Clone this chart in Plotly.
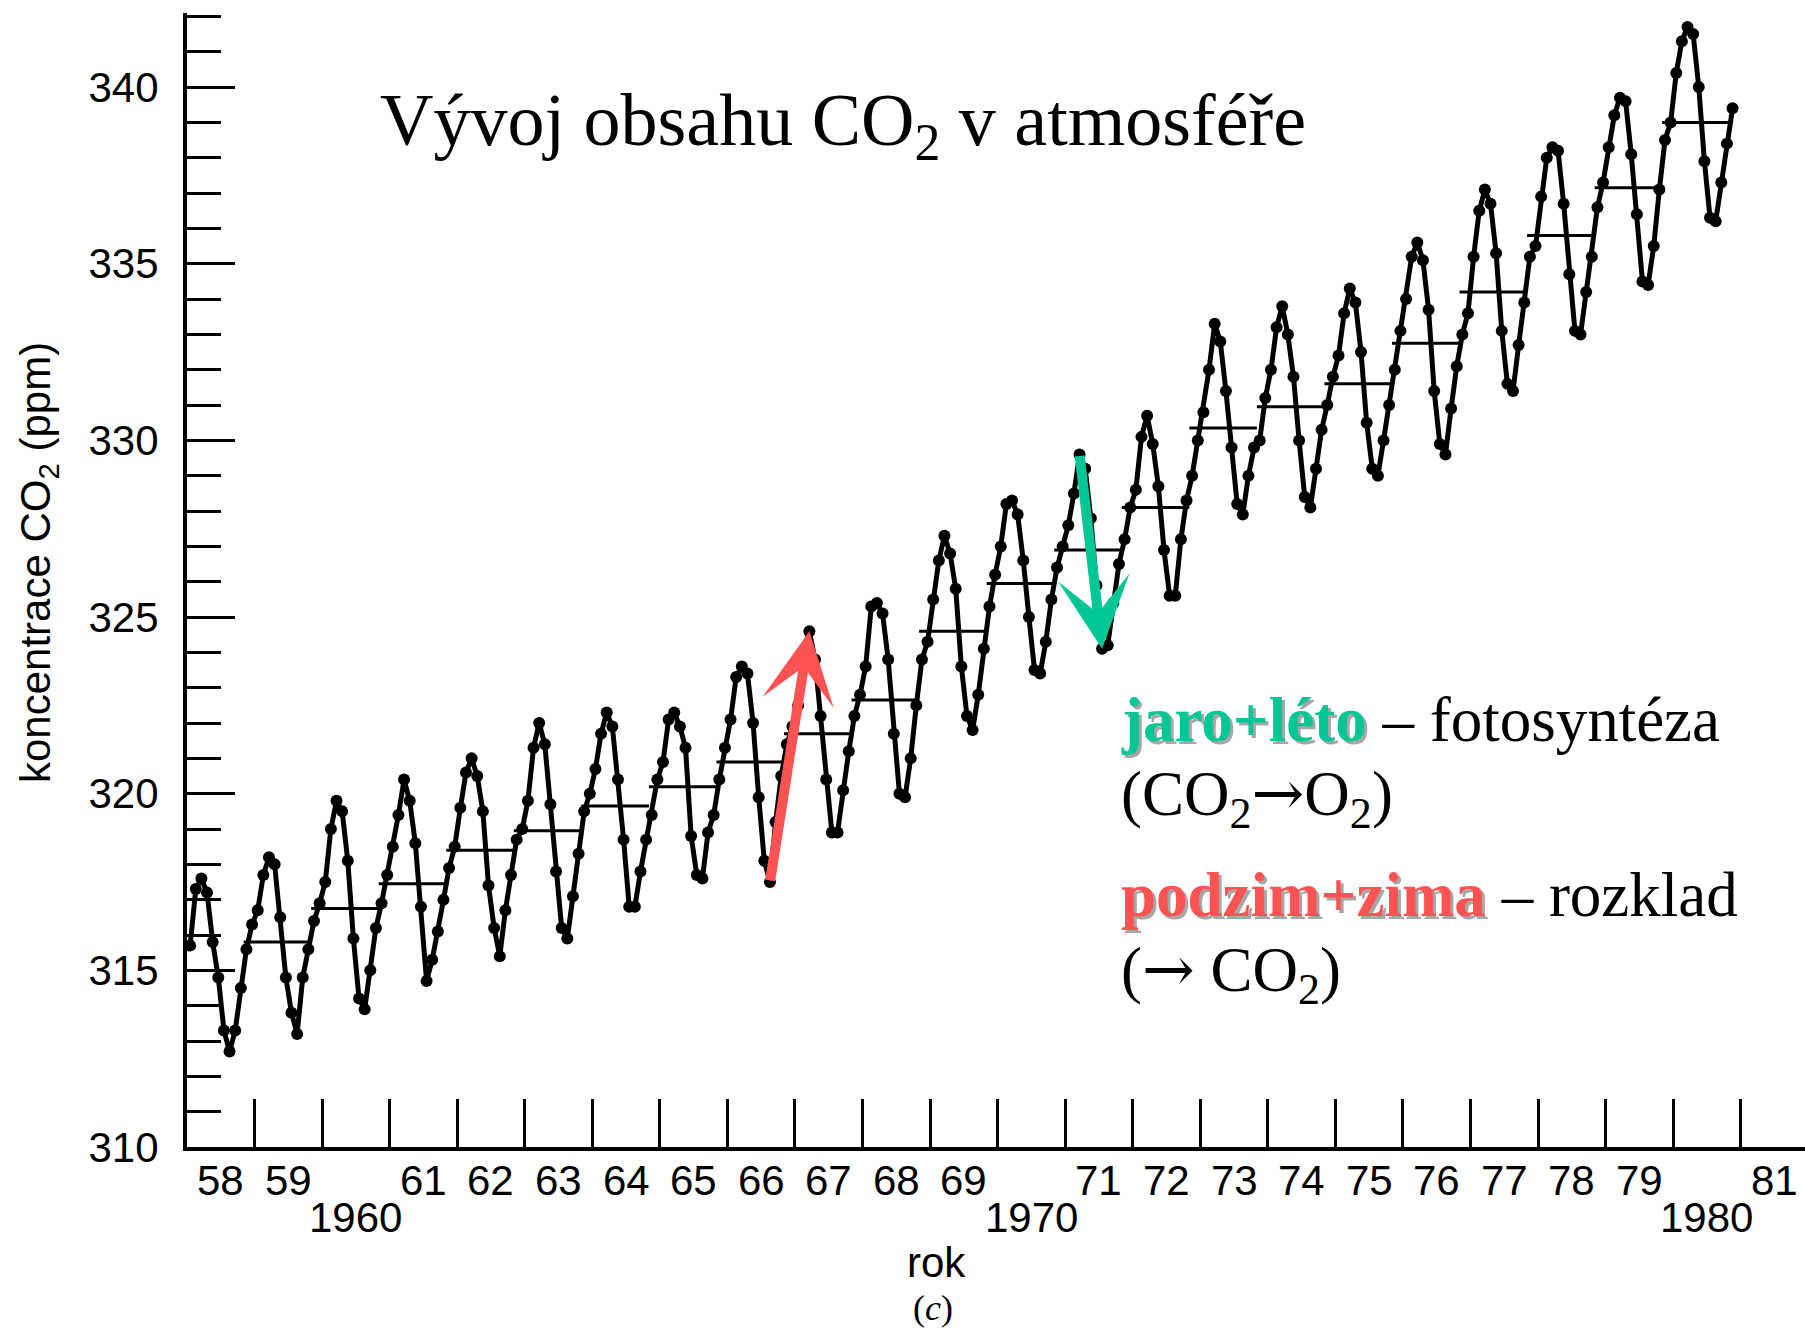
import plotly.graph_objects as go

# ---------------- data (monthly CO2, ppm) ----------------
co2_1958 = [315.7, 317.3, 317.6, 317.2, 315.8, 314.8, 313.3, 312.7, 313.3, 314.5]  # Mar-Dec
co2_1959 = [315.6, 316.3, 316.7, 317.7, 318.2, 318.0, 316.5, 314.8, 313.8, 313.2, 314.8, 315.6]
co2_1960 = [316.4, 316.9, 317.5, 319.0, 319.8, 319.5, 318.1, 315.9, 314.2, 313.9, 315.0, 316.2]
co2_1961 = [316.9, 317.7, 318.5, 319.4, 320.4, 319.8, 318.6, 316.8, 314.7, 315.3, 316.1, 317.0]
co2_1962 = [317.9, 318.5, 319.6, 320.6, 321.0, 320.5, 319.5, 317.4, 316.2, 315.4, 316.7, 317.7]
co2_1963 = [318.7, 319.0, 319.8, 321.3, 322.0, 321.4, 319.7, 317.8, 316.2, 315.9, 317.1, 318.3]
co2_1964 = [319.5, 320.0, 320.7, 321.7, 322.3, 321.9, 320.4, 318.7, 316.8, 316.8, 317.8, 318.7]
co2_1965 = [319.4, 320.4, 320.9, 322.1, 322.3, 321.9, 321.3, 318.8, 317.7, 317.6, 318.9, 319.4]
co2_1966 = [320.4, 321.3, 322.1, 323.3, 323.6, 323.4, 322.0, 319.9, 318.1, 317.5, 319.2, 320.5]
co2_1967 = [321.4, 321.9, 322.5, 324.0, 324.6, 323.8, 322.2, 320.4, 318.9, 318.9, 320.1, 321.2]
co2_1968 = [322.2, 322.8, 323.6, 325.3, 325.4, 325.1, 323.8, 321.7, 320.0, 319.9, 321.0, 322.5]
co2_1969 = [323.8, 324.3, 325.5, 326.6, 327.3, 326.8, 325.8, 323.6, 322.2, 321.8, 322.8, 324.1]
co2_1970 = [325.3, 326.2, 327.0, 328.2, 328.3, 327.9, 326.6, 325.0, 323.5, 323.4, 324.3, 325.5]
co2_1971 = [326.4, 327.0, 327.6, 328.5, 329.6, 329.2, 327.8, 325.9, 324.1, 324.2, 325.4, 326.5]
co2_1972 = [327.2, 328.1, 328.6, 330.1, 330.7, 329.9, 328.7, 326.9, 325.6, 325.6, 327.2, 328.3]
co2_1973 = [329.0, 330.0, 330.8, 332.0, 333.3, 332.8, 331.4, 329.8, 328.2, 327.9, 329.0, 329.8]
co2_1974 = [330.0, 331.2, 332.0, 333.2, 333.8, 333.0, 331.8, 330.0, 328.4, 328.1, 329.2, 330.3]
co2_1975 = [331.0, 331.8, 332.4, 333.6, 334.3, 333.9, 332.5, 330.5, 329.2, 329.0, 330.0, 331.0]
co2_1976 = [332.0, 333.1, 334.0, 335.2, 335.6, 335.1, 333.7, 331.4, 329.9, 329.6, 330.9, 332.1]
co2_1977 = [333.0, 333.6, 335.2, 336.5, 337.1, 336.7, 335.3, 333.1, 331.6, 331.4, 332.7, 333.9]
co2_1978 = [335.2, 335.5, 336.9, 338.0, 338.3, 338.2, 336.7, 334.7, 333.1, 333.0, 334.2, 335.2]
co2_1979 = [336.6, 337.3, 338.3, 339.2, 339.7, 339.6, 338.1, 336.4, 334.5, 334.4, 335.5, 337.1]
co2_1980 = [338.5, 339.0, 340.4, 341.3, 341.7, 341.5, 340.0, 337.9, 336.3, 336.2, 337.3, 338.4]
co2_1981 = [339.4]  # Jan

# annual means (horizontal bars)
mean_years = list(range(1959, 1981))
mean_values = [315.8, 316.75, 317.45, 318.4, 318.95, 319.65, 320.2, 320.9, 321.7, 322.65,
               324.6, 325.95, 326.9, 328.1, 330.35, 330.95, 331.6, 332.75, 334.2, 335.8,
               337.15, 339.0]

# x-axis labels (centered in each year interval)
row1_years = [1958, 1959, 1961, 1962, 1963, 1964, 1965, 1966, 1967, 1968, 1969,
              1971, 1972, 1973, 1974, 1975, 1976, 1977, 1978, 1979, 1981]
row1_labels = ["58", "59", "61", "62", "63", "64", "65", "66", "67", "68", "69",
               "71", "72", "73", "74", "75", "76", "77", "78", "79", "81"]
row2_years = [1960, 1970, 1980]
row2_labels = ["1960", "1970", "1980"]

y_major_ticks = [310, 315, 320, 325, 330, 335, 340]
year_ticks = list(range(1959, 1982))

# ---------------- layout constants ----------------
FIG_W, FIG_H = 1805, 1336
L, T, W, H = 187, 13, 1618, 1134
PX_PER_YEAR = 67.55
PX_PER_PPM = 35.33
SHIFT = -0.12          # horizontal placement of monthly points inside a year
GREEN = "#00C795"
RED = "#FF5252"
SERIF = "Liberation Serif"
SANS = "Liberation Sans"
ARROW = "<span style='font-family:DejaVu Serif'>→</span>"


def paper_x(px):
    return (px - L) / W


def paper_y(py):
    return (T + H - py) / H


series = [(1958, 3, co2_1958), (1959, 1, co2_1959), (1960, 1, co2_1960), (1961, 1, co2_1961),
          (1962, 1, co2_1962), (1963, 1, co2_1963), (1964, 1, co2_1964), (1965, 1, co2_1965),
          (1966, 1, co2_1966), (1967, 1, co2_1967), (1968, 1, co2_1968), (1969, 1, co2_1969),
          (1970, 1, co2_1970), (1971, 1, co2_1971), (1972, 1, co2_1972), (1973, 1, co2_1973),
          (1974, 1, co2_1974), (1975, 1, co2_1975), (1976, 1, co2_1976), (1977, 1, co2_1977),
          (1978, 1, co2_1978), (1979, 1, co2_1979), (1980, 1, co2_1980), (1981, 1, co2_1981)]


def month_x(year, month):
    return year + (month - 1) / 12 + SHIFT


xs, ys = [], []
by_year = {}
for year, m0, vals in series:
    pts = []
    for i, v in enumerate(vals):
        x = month_x(year, m0 + i)
        xs.append(x)
        ys.append(v)
        pts.append((x, v))
    by_year[year] = pts

mx, my = [], []
for yr, v in zip(mean_years, mean_values):
    mx += [month_x(yr, 1) - 1 / 24, month_x(yr, 12) + 1 / 24, None]
    my += [v, v, None]

fig = go.Figure()
fig.add_trace(go.Scatter(x=mx, y=my, mode="lines", line=dict(color="black", width=3),
                         hoverinfo="skip"))
fig.add_trace(go.Scatter(x=xs, y=ys, mode="lines+markers",
                         line=dict(color="black", width=5),
                         marker=dict(color="black", size=12)))

# arrows derived from data extremes
tail_r = min(by_year[1966], key=lambda p: p[1])
tip_r = max(by_year[1967], key=lambda p: p[1])
tail_g = max(by_year[1971], key=lambda p: p[1])
tip_g = min(by_year[1971], key=lambda p: p[1])

annotations = []
for (tail, tip, col) in [(tail_r, tip_r, RED), (tail_g, tip_g, GREEN)]:
    annotations.append(dict(x=tip[0], y=tip[1], ax=tail[0], ay=tail[1], xref="x", yref="y",
                            axref="x", ayref="y", text="", showarrow=True, arrowhead=3,
                            arrowsize=1.2, arrowwidth=10, arrowcolor=col))

# x labels
for yr, lab in zip(row1_years, row1_labels):
    annotations.append(dict(x=yr + 0.5, y=paper_y(1180), xref="x", yref="paper", text=lab,
                            showarrow=False, xanchor="center", yanchor="middle",
                            font=dict(family=SANS, size=42, color="black")))
for yr, lab in zip(row2_years, row2_labels):
    annotations.append(dict(x=yr + 0.5, y=paper_y(1217), xref="x", yref="paper", text=lab,
                            showarrow=False, xanchor="center", yanchor="middle",
                            font=dict(family=SANS, size=42, color="black")))

annotations.append(dict(x=paper_x(936), y=paper_y(1262), xref="paper", yref="paper", text="rok",
                        showarrow=False, xanchor="center", yanchor="middle",
                        font=dict(family=SANS, size=42, color="black")))
annotations.append(dict(x=paper_x(933), y=paper_y(1308), xref="paper", yref="paper",
                        text="(<i>c</i>)", showarrow=False, xanchor="center", yanchor="middle",
                        font=dict(family=SERIF, size=36, color="black")))
annotations.append(dict(x=paper_x(38), y=paper_y(563), xref="paper", yref="paper",
                        text="koncentrace CO<sub>2</sub> (ppm)", textangle=-90, showarrow=False,
                        xanchor="center", yanchor="middle",
                        font=dict(family=SANS, size=42, color="black")))

# right text block
TX = paper_x(1119)
block = [
    (720, "<b><span style='color:%s'>jaro+léto</span></b> – fotosyntéza" % GREEN,
     "<b>jaro+léto</b>"),
    (798, "(CO<sub>2</sub>%sO<sub>2</sub>)" % ARROW, None),
    (895, "<b><span style='color:%s'>podzim+zima</span></b> – rozklad" % RED,
     "<b>podzim+zima</b>"),
    (973, "(%s CO<sub>2</sub>)" % ARROW, None),
]
for py, txt, shadow in block:
    if shadow:
        annotations.append(dict(x=TX, y=paper_y(py), xref="paper", yref="paper", text=shadow,
                                showarrow=False, xanchor="left", yanchor="middle",
                                xshift=3, yshift=-3,
                                font=dict(family=SERIF, size=63, color="rgba(0,0,0,0.35)")))
    annotations.append(dict(x=TX, y=paper_y(py), xref="paper", yref="paper", text=txt,
                            showarrow=False, xanchor="left", yanchor="middle",
                            font=dict(family=SERIF, size=63, color="black")))

fig.update_layout(
    width=FIG_W, height=FIG_H,
    margin=dict(l=L, r=FIG_W - L - W, t=T, b=FIG_H - T - H, pad=0),
    paper_bgcolor="white", plot_bgcolor="white", showlegend=False,
    title=dict(text="Vývoj obsahu CO<sub>2</sub> v atmosféře", x=380 / FIG_W, xanchor="left",
               y=1 - 119 / FIG_H, yanchor="middle",
               font=dict(family=SERIF, size=74, color="black")),
    xaxis=dict(range=[1958, 1958 + W / PX_PER_YEAR], tickvals=year_ticks, ticks="inside",
               ticklen=48, tickwidth=3, tickcolor="black", showticklabels=False,
               showline=True, linewidth=4, linecolor="black", showgrid=False, zeroline=False),
    yaxis=dict(range=[310, 310 + H / PX_PER_PPM], tickvals=y_major_ticks, ticks="inside",
               ticklen=48, tickwidth=3, tickcolor="black", showline=True, linewidth=4,
               linecolor="black", showgrid=False, zeroline=False, ticklabelstandoff=16,
               tickfont=dict(family=SANS, size=42, color="black"),
               minor=dict(dtick=1, tick0=310, ticks="inside", ticklen=34, tickwidth=3,
                          tickcolor="black", showgrid=False)),
    annotations=annotations,
)

fig.write_html("out.html")
